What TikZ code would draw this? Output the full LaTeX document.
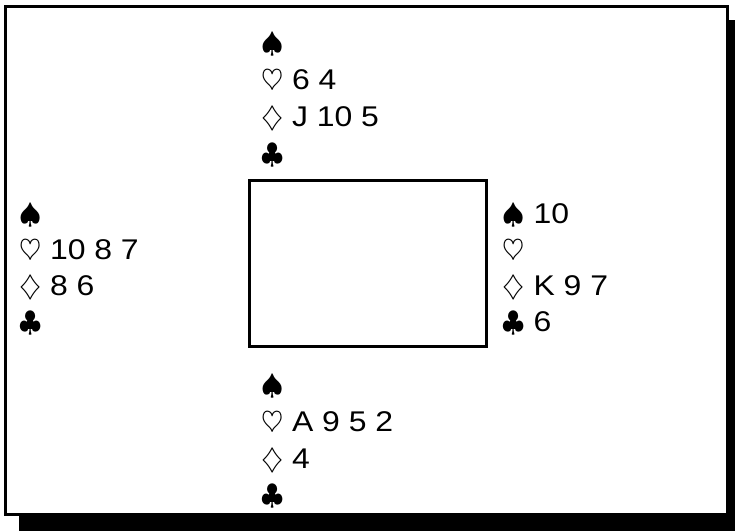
\RequirePackage{fix-cm}
\documentclass[tikz,border=0pt]{standalone}
\usepackage{fontspec}
\setmainfont[FakeStretch=1.12]{Liberation Sans}
\begin{document}
\begin{tikzpicture}[x=1pt,y=-1pt,
  handline/.style={anchor=base west,inner sep=0pt,outer sep=0pt,font=\fontsize{28.5}{34}\selectfont},
  frameline/.style={line width=3pt},
]
\useasboundingbox (0,0) rectangle (735,530);
% shadow
\fill[black] (19,20) rectangle (760,560);
% frame
\filldraw[frameline,fill=white] (5.5,6.5) rectangle (727.5,514.5);
% table
\node[draw,line width=3pt,minimum width=237pt,minimum height=166.5pt,inner sep=0pt,anchor=north west] (table) at (247.5,178.5) {};
% North
\node[handline] (n1) at (261,52) {$\spadesuit$};
\node[handline] (n2) at (261,89) {$\heartsuit$ 6 4};
\node[handline] (n3) at (261,126) {$\diamondsuit$ J 10 5};
\node[handline] (n4) at (261,163) {$\clubsuit$};
% West
\node[handline] (w1) at (19,223) {$\spadesuit$};
\node[handline] (w2) at (19,259.5) {$\heartsuit$ 10 8 7};
\node[handline] (w3) at (19,295) {$\diamondsuit$ 8 6};
\node[handline] (w4) at (19,331) {$\clubsuit$};
% East
\node[handline] (e1) at (502.5,223) {$\spadesuit$ 10};
\node[handline] (e2) at (502.5,259.5) {$\heartsuit$};
\node[handline] (e3) at (502.5,295) {$\diamondsuit$ K 9 7};
\node[handline] (e4) at (502.5,331) {$\clubsuit$ 6};
% South
\node[handline] (s1) at (261,394) {$\spadesuit$};
\node[handline] (s2) at (261,431) {$\heartsuit$ A 9 5 2};
\node[handline] (s3) at (261,468) {$\diamondsuit$ 4};
\node[handline] (s4) at (261,504) {$\clubsuit$};
\end{tikzpicture}
\end{document}
